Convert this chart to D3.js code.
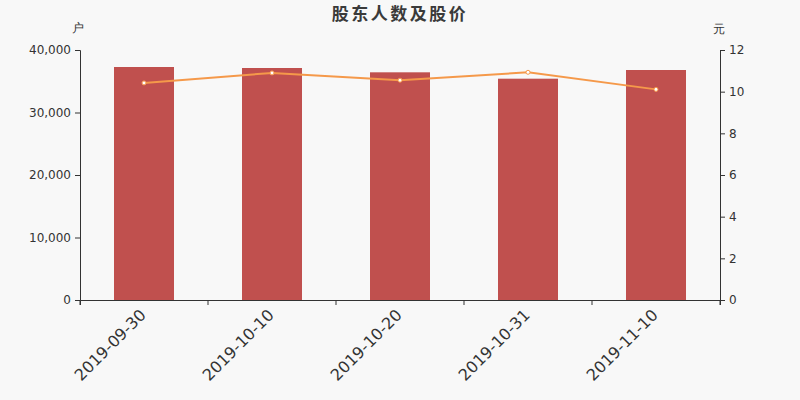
<!DOCTYPE html>
<html><head><meta charset="utf-8">
<script src="https://cdn.jsdelivr.net/npm/d3@7"></script>
<style>body{margin:0;background:#f8f8f8;}svg{display:block;font-family:"DejaVu Sans",sans-serif;}</style>
</head><body>
<svg id="c" width="800" height="400"></svg>
<script>
const categories = ["2019-09-30","2019-10-10","2019-10-20","2019-10-31","2019-11-10"];
const holders = [37280, 37120, 36430, 35410, 36800];
const prices = [10.42, 10.90, 10.55, 10.93, 10.11];
const leftTicks = [0, 10000, 20000, 30000, 40000];
const rightTicks = [0, 2, 4, 6, 8, 10, 12];
const title = "股东人数及股价";

const svg = d3.select("#c");
svg.append("rect").attr("width",800).attr("height",400).attr("fill","#f8f8f8");
const m = {l:80, r:720, t:50, b:300};
const x = d3.scaleBand().domain(categories).range([m.l, m.r]);
const yL = d3.scaleLinear().domain([0,40000]).range([m.b, m.t]);
const yR = d3.scaleLinear().domain([0,12]).range([m.b, m.t]);
const barW = 60;

svg.append("text").attr("x",400).attr("y",20).attr("text-anchor","middle")
  .attr("font-size",17).attr("font-weight","bold").attr("letter-spacing",2.5)
  .attr("fill","#3a3a3a").attr("font-family","'Noto Sans CJK SC',sans-serif").text(title);

svg.selectAll("rect.bar").data(holders).enter().append("rect").attr("class","bar")
  .attr("x",(d,i)=>x(categories[i])+x.bandwidth()/2-barW/2)
  .attr("width",barW).attr("y",d=>yL(d)).attr("height",d=>yL(0)-yL(d)).attr("fill","#c0504e");

const line = d3.line().x((d,i)=>x(categories[i])+x.bandwidth()/2).y(d=>yR(d));
svg.append("path").attr("d",line(prices)).attr("fill","none").attr("stroke","#f5994a").attr("stroke-width",2);
svg.selectAll("circle.pt").data(prices).enter().append("circle").attr("class","pt")
  .attr("cx",(d,i)=>x(categories[i])+x.bandwidth()/2).attr("cy",d=>yR(d)).attr("r",2)
  .attr("fill","#fff").attr("stroke","#f5994a").attr("stroke-width",1);

const axL = svg.append("g").attr("transform",`translate(${m.l},0)`)
  .call(d3.axisLeft(yL).tickValues(leftTicks).tickSize(5).tickPadding(4).tickFormat(d3.format(",")));
const axR = svg.append("g").attr("transform",`translate(${m.r},0)`)
  .call(d3.axisRight(yR).tickValues(rightTicks).tickSize(5).tickPadding(4));
const axX = svg.append("g").attr("transform",`translate(0,${m.b})`)
  .call(d3.axisBottom(x).tickSize(5).tickSizeOuter(5).tickPadding(6));
axX.selectAll(".tick line").attr("x1",-x.bandwidth()/2).attr("x2",-x.bandwidth()/2);
axX.append("line").attr("x1",m.r).attr("x2",m.r).attr("y1",0).attr("y2",5).attr("stroke","#333");
axX.selectAll(".tick text").attr("font-size",16).attr("fill","#333")
  .attr("text-anchor","end").attr("x",0).attr("y",0).attr("dx",0).attr("dy",0)
  .attr("transform","translate(3,16) rotate(-45)");
[axL,axR,axX].forEach(a=>{
  a.selectAll("path,line").attr("stroke","#333");
});
[axL,axR].forEach(a=>a.selectAll(".tick text").attr("font-size",12).attr("fill","#333").attr("font-family","'DejaVu Sans',sans-serif"));
axX.selectAll("text").attr("font-family","'DejaVu Sans',sans-serif");

svg.append("text").attr("x",78).attr("y",32).attr("text-anchor","middle").attr("font-size",12).attr("fill","#333").text("户");
svg.append("text").attr("x",719).attr("y",33).attr("text-anchor","middle").attr("font-size",12).attr("fill","#333").text("元");
</script>
</body></html>
